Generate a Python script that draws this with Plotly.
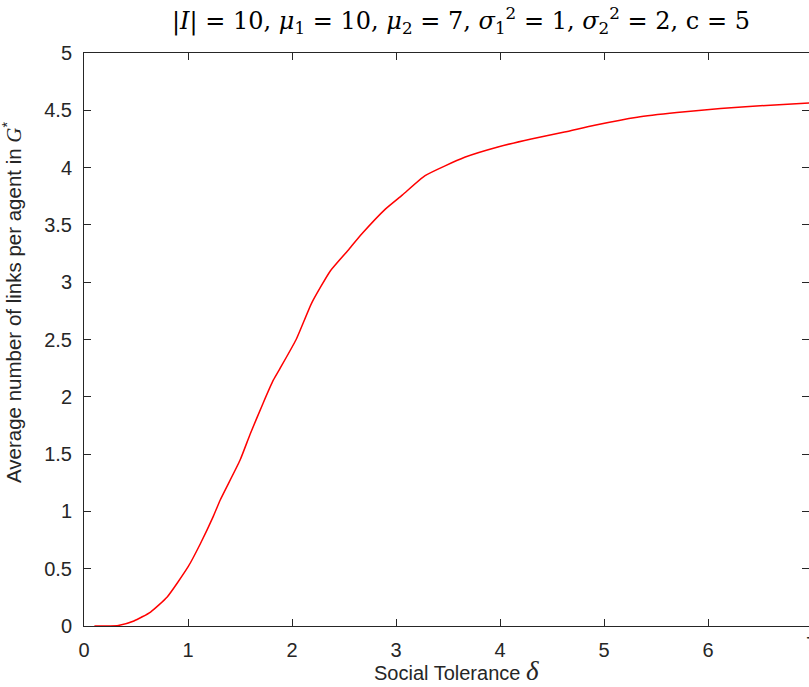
import plotly.graph_objects as go

# Data
delta = [0.10, 0.33, 0.48, 0.64, 0.80, 1.00, 1.12, 1.24, 1.31, 1.50, 1.60, 1.72,
         1.82, 1.88, 2.04, 2.19, 2.37, 2.55, 2.67, 2.90, 3.06, 3.28, 3.66, 3.98,
         4.30, 4.62, 4.91, 5.32, 5.70, 6.12, 6.60, 7.00]
links = [0.0, 0.005, 0.044, 0.122, 0.253, 0.515, 0.72, 0.95, 1.10, 1.446, 1.68, 1.94,
         2.145, 2.24, 2.50, 2.82, 3.10, 3.29, 3.42, 3.64, 3.76, 3.93, 4.09, 4.18,
         4.25, 4.31, 4.37, 4.44, 4.48, 4.515, 4.545, 4.565]

x_ticks = [0, 1, 2, 3, 4, 5, 6]
y_ticks = [0, 0.5, 1, 1.5, 2, 2.5, 3, 3.5, 4, 4.5, 5]
y_ticklabels = ["0", "0.5", "1", "1.5", "2", "2.5", "3", "3.5", "4", "4.5", "5"]

title_text = ("|<i>I</i>| = 10, <i>μ</i><sub>1</sub> = 10, <i>μ</i><sub>2</sub> = 7, "
              "<i>σ</i><sub>1</sub><sup>2</sup> = 1, <i>σ</i><sub>2</sub><sup>2</sup> = 2, c = 5")
xlabel = 'Social Tolerance <span style="font-family:Liberation Serif;font-size:27px"><i>δ</i></span>'
ylabel = ('Average number of links per agent in '
          '<span style="font-family:Liberation Serif;font-size:21px"><i>G</i></span><sup>*</sup>')

W, H = 809, 687
ML, MR, MT, MB = 84, 0, 53, 61
PW, PH = W - ML - MR, H - MT - MB
px_per_unit = 104.0
x_max = PW / px_per_unit

tick_font = dict(family="Liberation Sans, Arial", size=20, color="#262626")

fig = go.Figure()
fig.add_trace(go.Scatter(x=delta, y=links, mode="lines",
                         line=dict(color="#ff0000", width=1.5, shape="spline", smoothing=0.5)))

fig.update_layout(
    width=W, height=H,
    margin=dict(l=ML, r=MR, t=MT, b=MB, pad=0),
    paper_bgcolor="white", plot_bgcolor="white",
    showlegend=False,
    xaxis=dict(range=[0, x_max], tickvals=x_ticks, ticks="inside", ticklen=7,
               tickcolor="#262626", showline=True, linecolor="#262626", linewidth=1,
               mirror="ticks", showgrid=False, zeroline=False, tickfont=tick_font,
               ticklabelstandoff=6),
    yaxis=dict(range=[0, 5], tickvals=y_ticks, ticktext=y_ticklabels, ticks="inside",
               ticklen=7, tickcolor="#262626", showline=True, linecolor="#262626",
               linewidth=1, mirror="ticks", showgrid=False, zeroline=False,
               tickfont=tick_font, ticklabelstandoff=7),
)

def px_x(p):
    return (p - ML) / PW

def px_y(p):
    return (H - MB - p) / PH

annotations = [
    dict(text=title_text, x=px_x(461), y=px_y(20), xref="paper", yref="paper",
         showarrow=False, xanchor="center", yanchor="middle",
         font=dict(family="DejaVu Serif", size=24, color="black")),
    dict(text=xlabel, x=px_x(456), y=px_y(671), xref="paper", yref="paper",
         showarrow=False, xanchor="center", yanchor="middle",
         font=dict(family="Liberation Sans, Arial", size=20, color="#262626")),
    dict(text=ylabel, x=px_x(12), y=px_y(302), xref="paper", yref="paper",
         showarrow=False, xanchor="center", yanchor="middle", textangle=-90,
         font=dict(family="Liberation Sans, Arial", size=20.5, color="#262626")),
    dict(text="7", x=px_x(84 + 7 * px_per_unit), y=px_y(644), xref="paper", yref="paper",
         showarrow=False, xanchor="center", yanchor="middle",
         font=tick_font),
]
fig.update_layout(annotations=annotations)

fig.write_html("out.html", config={"displayModeBar": False},
               post_script="document.body.style.margin='0';")
